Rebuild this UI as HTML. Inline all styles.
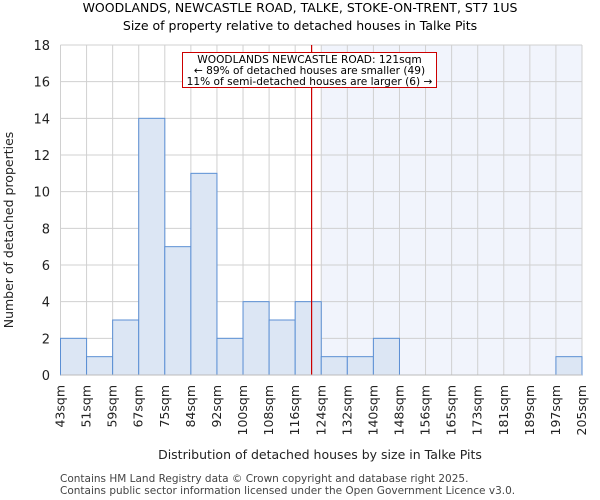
<!DOCTYPE html>
<html><head><meta charset="utf-8"><style>
body{margin:0;background:#fff;}
svg{display:block;font-family:"DejaVu Sans","Liberation Sans",sans-serif;}
</style></head><body>
<svg id="c" width="600" height="500" viewBox="0 0 600 500">
<text x="300" y="12" text-anchor="middle" font-size="12.5" fill="#000">WOODLANDS, NEWCASTLE ROAD, TALKE, STOKE-ON-TRENT, ST7 1US</text>
<text x="300" y="30" text-anchor="middle" font-size="12.5" fill="#000">Size of property relative to detached houses in Talke Pits</text>
<g id="plot"></g>
<text transform="translate(13,230) rotate(-90)" text-anchor="middle" font-size="12.5" fill="#222">Number of detached properties</text>
<text x="320" y="459" text-anchor="middle" font-size="12.5" fill="#222">Distribution of detached houses by size in Talke Pits</text>
<text x="60" y="482" font-size="10.5" fill="#444">Contains HM Land Registry data © Crown copyright and database right 2025.</text>
<text x="60" y="494" font-size="10.5" fill="#444">Contains public sector information licensed under the Open Government Licence v3.0.</text>
</svg>
<script>
const binLabels = ["43sqm","51sqm","59sqm","67sqm","75sqm","84sqm","92sqm","100sqm","108sqm","116sqm","124sqm","132sqm","140sqm","148sqm","156sqm","165sqm","173sqm","181sqm","189sqm","197sqm","205sqm"];
const counts = [2,1,3,14,7,11,2,4,3,4,1,1,2,0,0,0,0,0,0,1];
const yTicks = [0,2,4,6,8,10,12,14,16,18];
const markerBin = 9.63;
const highlightStartBin = 10;

const NS="http://www.w3.org/2000/svg";
const g=document.getElementById('plot');
const X0=60.5,X1=582,Y0=375,Y1=45,YMAX=18;
const nb=counts.length;
const xs=i=>X0+(X1-X0)*i/nb;
const ys=v=>Y0-(Y0-Y1)*v/YMAX;
function mk(t,a){const e=document.createElementNS(NS,t);for(const k in a)e.setAttribute(k,a[k]);g.appendChild(e);return e;}

let e=mk('rect',{x:xs(highlightStartBin),y:Y1,width:X1-xs(highlightStartBin),height:Y0-Y1,fill:'#f1f4fc'});


for(let i=0;i<=nb;i++){
  e=mk('line',{x1:xs(i),x2:xs(i),y1:Y1,y2:Y0,stroke:'#d0d0d0','stroke-width':1});
  
  
}
yTicks.forEach(v=>{
  e=mk('line',{x1:X0,x2:X1,y1:ys(v),y2:ys(v),stroke:'#d0d0d0','stroke-width':1});
  
  
  e=mk('text',{x:50,y:ys(v)+5,'text-anchor':'end','font-size':13,fill:'#222'});
  e.textContent=v;
  
  
});
counts.forEach((c,i)=>{
  if(c<=0)return;
  e=mk('rect',{x:xs(i),y:ys(c),width:xs(i+1)-xs(i),height:Y0-ys(c),fill:'#dce6f4',stroke:'#5b8fd4','stroke-width':1});
  
  
});
binLabels.forEach((l,i)=>{
  const x=xs(i)+4;
  e=mk('text',{x:0,y:0,transform:`translate(${x},385) rotate(-90)`,'text-anchor':'end','font-size':12.5,fill:'#222'});
  e.textContent=l;
  
  
});
const mx=xs(markerBin);
e=mk('line',{x1:mx,x2:mx,y1:Y1,y2:Y0,stroke:'#cc0000','stroke-width':1.2});


e=mk('rect',{x:182.5,y:52.5,width:254,height:35,fill:'#fff',stroke:'#cc0000','stroke-width':1});


["WOODLANDS NEWCASTLE ROAD: 121sqm","← 89% of detached houses are smaller (49)","11% of semi-detached houses are larger (6) →"].forEach((t,k)=>{
  e=mk('text',{x:309.5,y:63+k*11,'text-anchor':'middle','font-size':10.6,fill:'#000'});
  e.textContent=t;
  
  
});
e=mk('line',{x1:X0,x2:X1,y1:Y0,y2:Y0,stroke:'#bbb','stroke-width':1});


</script>
</body></html>
